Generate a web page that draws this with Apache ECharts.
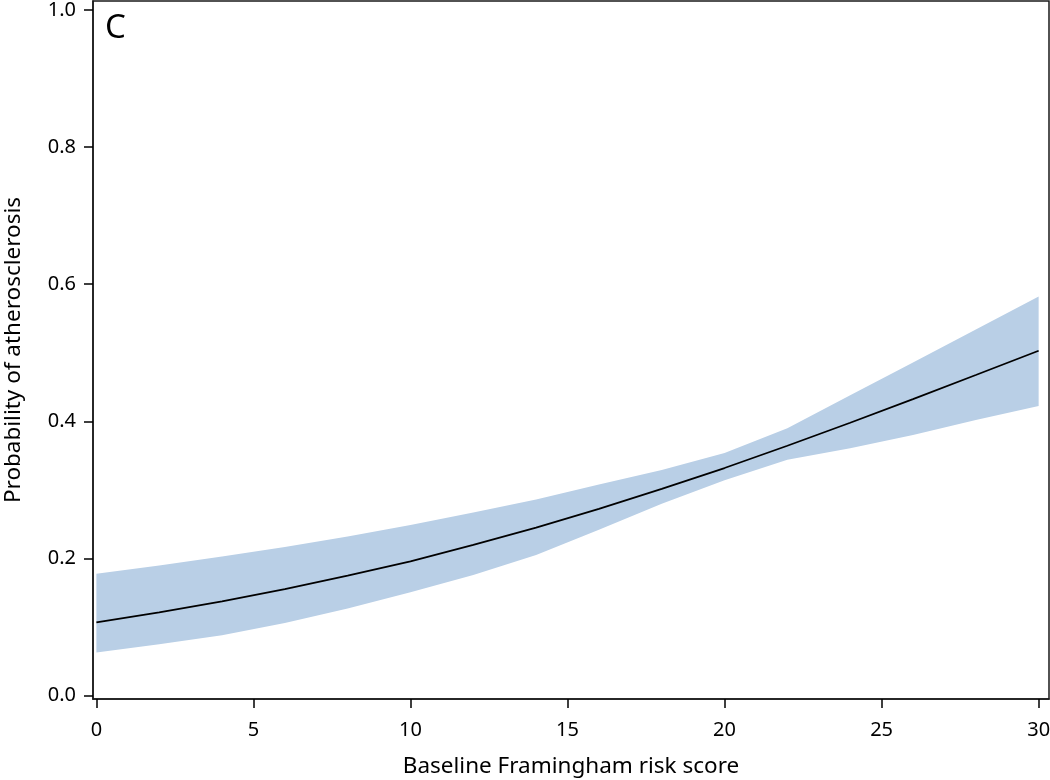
<!DOCTYPE html>
<html>
<head>
<meta charset="utf-8">
<script src="https://cdn.jsdelivr.net/npm/echarts@6/dist/echarts.min.js"></script>
<style>html,body{margin:0;padding:0;background:#fff}#c{width:1050px;height:780px}</style>
</head>
<body>
<div id="c"></div>
<script>
// Data
const xValues   = [0, 2, 4, 6, 8, 10, 12, 14, 16, 18, 20, 22, 24, 26, 28, 30];
const fitted    = [0.107, 0.1215, 0.1376, 0.1554, 0.175, 0.196, 0.2198, 0.245, 0.2725, 0.3015, 0.332, 0.3645, 0.398, 0.4325, 0.4676, 0.503];
const upperCI   = [0.178, 0.190, 0.203, 0.217, 0.232, 0.249, 0.267, 0.286, 0.308, 0.329, 0.354, 0.390, 0.438, 0.486, 0.534, 0.582];
const lowerCI   = [0.063, 0.075, 0.088, 0.106, 0.127, 0.151, 0.176, 0.205, 0.242, 0.280, 0.314, 0.344, 0.361, 0.380, 0.402, 0.4225];
const xTicks    = [0, 5, 10, 15, 20, 25, 30];
const yTicks    = [0, 0.2, 0.4, 0.6, 0.8, 1.0];
const panelLabel = 'C';
const xTitle = 'Baseline Framingham risk score';
const yTitle = 'Probability of atherosclerosis';

const FONT = 'Noto Sans';
const chart = echarts.init(document.getElementById('c'), null, {renderer: 'canvas'});

const bandData = xValues.map((x, i) => [x, lowerCI[i], upperCI[i]]);
const line = xValues.map((x, i) => [x, fitted[i]]);

chart.setOption({
  animation: false,
  backgroundColor: '#fff',
  grid: {
    left: 93, right: 1, top: 1, bottom: 81,
    outerBoundsMode: 'none', containLabel: false,
    show: true, borderColor: '#1a1a1a', borderWidth: 1.5, backgroundColor: '#fff'
  },
  graphic: [{
    type: 'text', left: 105, top: 12,
    style: {text: panelLabel, font: '400 33px "' + FONT + '"', fill: '#000'}
  }],
  xAxis: {
    type: 'value', min: -0.108, max: 30.33,
    name: xTitle, nameLocation: 'middle', nameGap: 56,
    nameTextStyle: {fontFamily: FONT, fontSize: 22.5, color: '#000'},
    axisLine: {show: true, onZero: false, lineStyle: {color: '#1a1a1a', width: 1.5}},
    axisTick: {show: true, length: 9, customValues: xTicks, lineStyle: {color: '#000', width: 1.5}},
    axisLabel: {customValues: xTicks, margin: 21, fontFamily: FONT, fontSize: 20, color: '#000'},
    splitLine: {show: false}
  },
  yAxis: {
    type: 'value', min: -0.0048, max: 1.013,
    name: yTitle, nameLocation: 'middle', nameGap: 68, nameRotate: 90,
    nameTextStyle: {fontFamily: FONT, fontSize: 22.5, color: '#000'},
    axisLine: {show: true, onZero: false, lineStyle: {color: '#1a1a1a', width: 1.5}},
    axisTick: {show: true, length: 9, customValues: yTicks, lineStyle: {color: '#000', width: 1.5}},
    axisLabel: {customValues: yTicks, margin: 17, fontFamily: FONT, fontSize: 20, color: '#000',
      formatter: v => v.toFixed(1)},
    splitLine: {show: false}
  },
  series: [
    {
      type: 'custom', data: bandData, silent: true, z: 2,
      encode: {x: 0, y: [1, 2]},
      renderItem: function (params, api) {
        if (params.dataIndex !== 0) return null;
        const pts = [];
        for (let i = 0; i < bandData.length; i++) pts.push(api.coord([bandData[i][0], bandData[i][2]]));
        for (let i = bandData.length - 1; i >= 0; i--) pts.push(api.coord([bandData[i][0], bandData[i][1]]));
        return {type: 'polygon', shape: {points: pts}, style: {fill: '#b9cfe6', stroke: null}};
      }
    },
    {type: 'line', data: line, symbol: 'none', smooth: false,
      lineStyle: {color: '#000', width: 1.8}, z: 5}
  ]
});
</script>
</body>
</html>
